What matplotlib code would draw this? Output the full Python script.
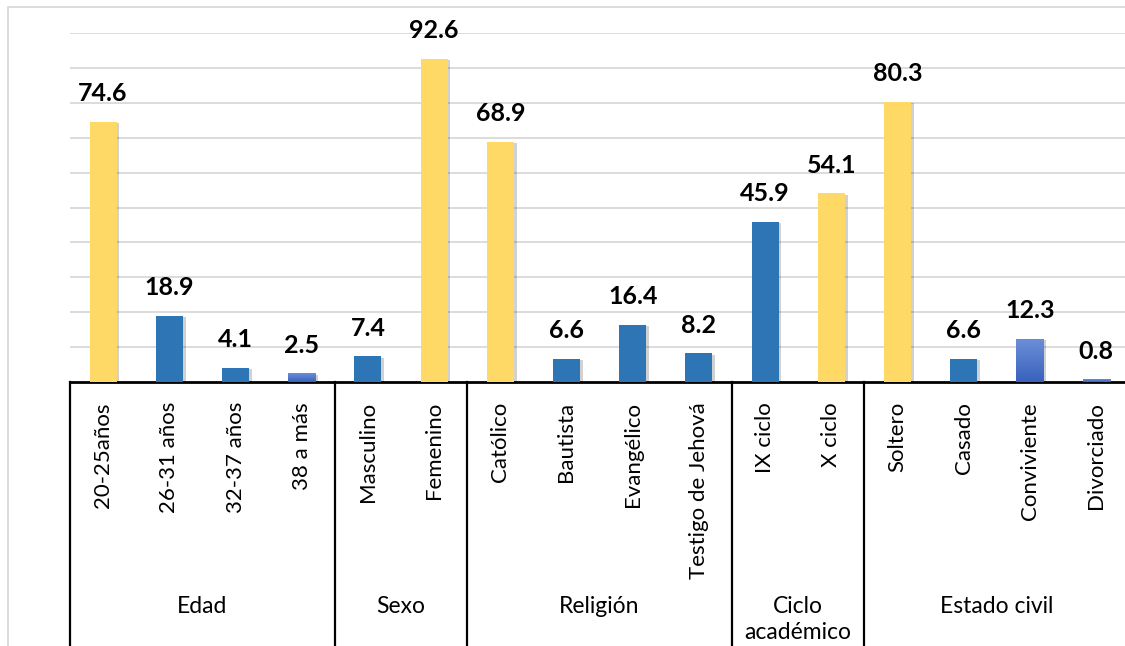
import numpy as np
import matplotlib.pyplot as plt
from matplotlib.patches import Rectangle
from matplotlib import patheffects as pe
from matplotlib.colors import LinearSegmentedColormap

plt.rcParams['font.family'] = ['Lato', 'DejaVu Sans']

# datos
groups = ["Edad", "Sexo", "Religión", "Ciclo\nacadémico", "Estado civil"]
group_sizes = [4, 2, 4, 2, 4]
categories = ["20-25años", "26-31 años", "32-37 años", "38 a más",
              "Masculino", "Femenino",
              "Católico", "Bautista", "Evangélico", "Testigo de Jehová",
              "IX ciclo", "X ciclo",
              "Soltero", "Casado", "Conviviente", "Divorciado"]
values = [74.6, 18.9, 4.1, 2.5,
          7.4, 92.6,
          68.9, 6.6, 16.4, 8.2,
          45.9, 54.1,
          80.3, 6.6, 12.3, 0.8]

# estilo de cada barra: y = amarillo, b = azul, g = azul degradado
styles = ["y", "b", "b", "g", "b", "y", "y", "b", "b", "b", "b", "y", "y", "b", "g", "g"]
col = {"y": "#FFD966", "b": "#2E75B6", "g": "#4472C4"}

W, H = 1125, 646
fig = plt.figure(figsize=(W / 100, H / 100), dpi=100)
n = len(categories)
ax_left, ax_bottom = 70 / W, (H - 382) / H
ax_w = 16 * 66.2 / W
ax_h = (382 - 33) / H
ax = fig.add_axes([ax_left, ax_bottom, ax_w, ax_h])

x = np.arange(n)
bars = ax.bar(x, values, width=0.41, color=[col[s] for s in styles], zorder=3)
grad = LinearSegmentedColormap.from_list("g", ["#3A62BE", "#6A8ED6"])
for b, s in zip(bars, styles):
    b.set_path_effects([pe.SimplePatchShadow(offset=(2, -1), alpha=0.18, shadow_rgbFace="k"), pe.Normal()])
    if s == "g":
        bx = b.get_x()
        im = ax.imshow(np.linspace(0, 1, 50).reshape(-1, 1), cmap=grad, origin="lower",
                       extent=[bx, bx + b.get_width(), 0, b.get_height()],
                       aspect="auto", zorder=4)
        im.set_clip_path(b)

for xi, v in zip(x, values):
    ax.annotate(f"{v:.1f}", (xi, v), xytext=(0, 12), textcoords="offset points",
                ha="center", va="bottom", fontsize=18, fontweight="bold", color="black")

ax.set_xlim(-0.5, n - 0.5)
ax.set_ylim(0, 100)
ax.set_yticks(np.arange(10, 101, 10))
ax.yaxis.grid(True, color="#D9D9D9", linewidth=1.3, zorder=0)
ax.set_yticklabels([])
ax.tick_params(left=False, bottom=False, labelbottom=False)
for side in ["left", "right", "top"]:
    ax.spines[side].set_visible(False)
ax.spines["bottom"].set_linewidth(2)
ax.spines["bottom"].set_color("black")
ax.set_autoscale_on(False)

trans = ax.get_xaxis_transform()
ph = 382 - 33
for xi, c in zip(x, categories):
    ax.text(xi, -20 / ph, c, rotation=90, ha="center", va="top", fontsize=16,
            transform=trans, clip_on=False)

edges = np.concatenate([[0], np.cumsum(group_sizes)]) - 0.5
for e in edges:
    ax.plot([e, e], [0, -1.0], color="black", lw=1.6, transform=trans, clip_on=False)
for g, a, b in zip(groups, edges[:-1], edges[1:]):
    ax.text((a + b) / 2, -214 / ph, g, ha="center", va="top", fontsize=16.5,
            linespacing=1.3, transform=trans, clip_on=False)

# borde del gráfico
fig.add_artist(Rectangle((8 / W, -0.1), 2, 1.1 - 7 / H, transform=fig.transFigure,
                         fill=False, edgecolor="#D9D9D9", lw=1.3))

fig.savefig("out.png", dpi=100)
